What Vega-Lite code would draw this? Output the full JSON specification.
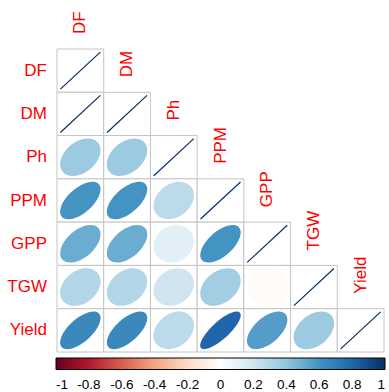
{
  "$schema": "https://vega.github.io/schema/vega-lite/v6.json",
  "width": 327,
  "height": 303,
  "autosize": {"type": "none"},
  "padding": {"left": 57, "top": 49, "right": 5, "bottom": 40},
  "background": "white",
  "config": {"view": {"stroke": null}},
  "datasets": {
    "cells": [
      {"row": "DF", "col": "DF", "r": 1},
      {"row": "DM", "col": "DF", "r": 1}, {"row": "DM", "col": "DM", "r": 1},
      {"row": "Ph", "col": "DF", "r": 0.37}, {"row": "Ph", "col": "DM", "r": 0.37}, {"row": "Ph", "col": "Ph", "r": 1},
      {"row": "PPM", "col": "DF", "r": 0.6}, {"row": "PPM", "col": "DM", "r": 0.6}, {"row": "PPM", "col": "Ph", "r": 0.27}, {"row": "PPM", "col": "PPM", "r": 1},
      {"row": "GPP", "col": "DF", "r": 0.5}, {"row": "GPP", "col": "DM", "r": 0.5}, {"row": "GPP", "col": "Ph", "r": 0.12}, {"row": "GPP", "col": "PPM", "r": 0.6}, {"row": "GPP", "col": "GPP", "r": 1},
      {"row": "TGW", "col": "DF", "r": 0.3}, {"row": "TGW", "col": "DM", "r": 0.3}, {"row": "TGW", "col": "Ph", "r": 0.2}, {"row": "TGW", "col": "PPM", "r": 0.35}, {"row": "TGW", "col": "GPP", "r": -0.02}, {"row": "TGW", "col": "TGW", "r": 1},
      {"row": "Yield", "col": "DF", "r": 0.65}, {"row": "Yield", "col": "DM", "r": 0.65}, {"row": "Yield", "col": "Ph", "r": 0.27}, {"row": "Yield", "col": "PPM", "r": 0.8}, {"row": "Yield", "col": "GPP", "r": 0.56}, {"row": "Yield", "col": "TGW", "r": 0.37}, {"row": "Yield", "col": "Yield", "r": 1}
    ],
    "vars": [
      {"v": "DF"}, {"v": "DM"}, {"v": "Ph"}, {"v": "PPM"}, {"v": "GPP"}, {"v": "TGW"}, {"v": "Yield"}
    ]
  },
  "layer": [
    {
      "data": {"name": "cells"},
      "mark": {"type": "rect", "fill": "white", "stroke": "#c4c4c4", "strokeWidth": 1},
      "encoding": {
        "x": {"field": "col", "type": "nominal", "axis": null, "scale": {"domain": ["DF", "DM", "Ph", "PPM", "GPP", "TGW", "Yield"], "paddingInner": 0, "paddingOuter": 0}},
        "y": {"field": "row", "type": "nominal", "axis": null, "scale": {"domain": ["DF", "DM", "Ph", "PPM", "GPP", "TGW", "Yield"], "paddingInner": 0, "paddingOuter": 0}}
      }
    },
    {
      "data": {"name": "cells"},
      "transform": [{"filter": "datum.r == 1"}],
      "mark": {"type": "point", "filled": false, "opacity": 1, "strokeWidth": 1.2, "size": 1600, "stroke": "#053061", "shape": "M 1 -0.927 L -1 0.927 Z"},
      "encoding": {
        "x": {"field": "col", "type": "nominal"},
        "y": {"field": "row", "type": "nominal"}
      }
    },
    {
      "data": {"name": "cells"},
      "mark": {"type": "point", "filled": true, "opacity": 1, "fillOpacity": 1, "size": 1640},
      "encoding": {
        "x": {"field": "col", "type": "nominal"},
        "y": {"field": "row", "type": "nominal"},
        "shape": {
          "field": "r", "type": "nominal", "legend": null,
          "scale": {
            "domain": [1, 0.8, 0.65, 0.6, 0.56, 0.5, 0.37, 0.35, 0.3, 0.27, 0.2, 0.12, -0.02],
            "range": [
              "M 1 -0.927 L -1 0.927 Z",
              "M 0.949 -0.879 C 0.774 -1.041 0.208 -0.779 -0.316 -0.293 C -0.840 0.193 -1.123 0.718 -0.949 0.879 C -0.774 1.041 -0.208 0.779 0.316 0.293 C 0.840 -0.193 1.123 -0.718 0.949 -0.879 Z",
              "M 0.908 -0.842 C 0.677 -1.056 0.083 -0.853 -0.418 -0.388 C -0.920 0.077 -1.139 0.628 -0.908 0.842 C -0.677 1.056 -0.083 0.853 0.418 0.388 C 0.920 -0.077 1.139 -0.628 0.908 -0.842 Z",
              "M 0.894 -0.829 C 0.647 -1.058 0.047 -0.873 -0.447 -0.415 C -0.941 0.043 -1.141 0.600 -0.894 0.829 C -0.647 1.058 -0.047 0.873 0.447 0.415 C 0.941 -0.043 1.141 -0.600 0.894 -0.829 Z",
              "M 0.883 -0.819 C 0.624 -1.059 0.019 -0.887 -0.469 -0.435 C -0.957 0.017 -1.142 0.579 -0.883 0.819 C -0.624 1.059 -0.019 0.887 0.469 0.435 C 0.957 -0.017 1.142 -0.579 0.883 -0.819 Z",
              "M 0.866 -0.803 C 0.590 -1.059 -0.022 -0.907 -0.5 -0.464 C -0.978 -0.020 -1.142 0.547 -0.866 0.803 C -0.590 1.059 0.022 0.907 0.5 0.464 C 0.978 0.020 1.142 -0.547 0.866 -0.803 Z",
              "M 0.828 -0.767 C 0.518 -1.055 -0.104 -0.944 -0.561 -0.520 C -1.018 -0.097 -1.138 0.480 -0.828 0.767 C -0.518 1.055 0.104 0.944 0.561 0.520 C 1.018 0.097 1.138 -0.480 0.828 -0.767 Z",
              "M 0.822 -0.762 C 0.507 -1.054 -0.116 -0.949 -0.570 -0.529 C -1.024 -0.108 -1.137 0.470 -0.822 0.762 C -0.507 1.054 0.116 0.949 0.570 0.529 C 1.024 0.108 1.137 -0.470 0.822 -0.762 Z",
              "M 0.806 -0.747 C 0.480 -1.050 -0.146 -0.961 -0.592 -0.548 C -1.037 -0.136 -1.133 0.445 -0.806 0.747 C -0.480 1.050 0.146 0.961 0.592 0.548 C 1.037 0.136 1.133 -0.445 0.806 -0.747 Z",
              "M 0.797 -0.739 C 0.463 -1.048 -0.164 -0.968 -0.604 -0.560 C -1.044 -0.152 -1.131 0.429 -0.797 0.739 C -0.463 1.048 0.164 0.968 0.604 0.560 C 1.044 0.152 1.131 -0.429 0.797 -0.739 Z",
              "M 0.775 -0.718 C 0.425 -1.042 -0.205 -0.983 -0.632 -0.586 C -1.060 -0.190 -1.124 0.394 -0.775 0.718 C -0.425 1.042 0.205 0.983 0.632 0.586 C 1.060 0.190 1.124 -0.394 0.775 -0.718 Z",
              "M 0.748 -0.694 C 0.382 -1.033 -0.250 -0.998 -0.663 -0.615 C -1.077 -0.232 -1.115 0.354 -0.748 0.694 C -0.382 1.033 0.250 0.998 0.663 0.615 C 1.077 0.232 1.115 -0.354 0.748 -0.694 Z",
              "M 0.7 -0.649 C 0.306 -1.015 -0.328 -1.020 -0.714 -0.662 C -1.101 -0.304 -1.094 0.283 -0.7 0.649 C -0.306 1.015 0.328 1.020 0.714 0.662 C 1.101 0.304 1.094 -0.283 0.7 -0.649 Z"
            ]
          }
        },
        "fill": {
          "field": "r", "type": "quantitative",
          "scale": {
            "domain": [-1, -0.8, -0.6, -0.4, -0.2, 0, 0.2, 0.4, 0.6, 0.8, 1],
            "range": ["#67001F", "#B2182B", "#D6604D", "#F4A582", "#FDDBC7", "#FFFFFF", "#D1E5F0", "#92C5DE", "#4393C3", "#2166AC", "#053061"],
            "interpolate": "rgb"
          },
          "legend": {
            "type": "gradient",
            "title": null,
            "orient": "none",
            "direction": "horizontal",
            "legendX": -1,
            "legendY": 309,
            "padding": 0,
            "gradientLength": 329,
            "gradientThickness": 11.5,
            "gradientStrokeColor": "black",
            "gradientStrokeWidth": 1,
            "values": [-1, -0.8, -0.6, -0.4, -0.2, 0, 0.2, 0.4, 0.6, 0.8, 1],
            "labelExpr": "toString(datum.value)",
            "labelFont": "Liberation Sans",
            "labelFontSize": 13.5,
            "labelColor": "black",
            "labelOffset": 8,
            "labelOverlap": false
          }
        }
      }
    },
    {
      "data": {"name": "vars"},
      "mark": {"type": "text", "angle": 270, "align": "left", "baseline": "middle", "dx": 15, "font": "Liberation Sans", "fontSize": 17, "color": "#FF0000"},
      "encoding": {
        "x": {"field": "v", "type": "nominal"},
        "y": {"field": "v", "type": "nominal", "bandPosition": 0},
        "text": {"field": "v"}
      }
    },
    {
      "data": {"name": "vars"},
      "mark": {"type": "text", "align": "right", "baseline": "middle", "dx": -10, "font": "Liberation Sans", "fontSize": 17, "color": "#FF0000"},
      "encoding": {
        "x": {"datum": "DF", "bandPosition": 0},
        "y": {"field": "v", "type": "nominal"},
        "text": {"field": "v"}
      }
    }
  ]
}
